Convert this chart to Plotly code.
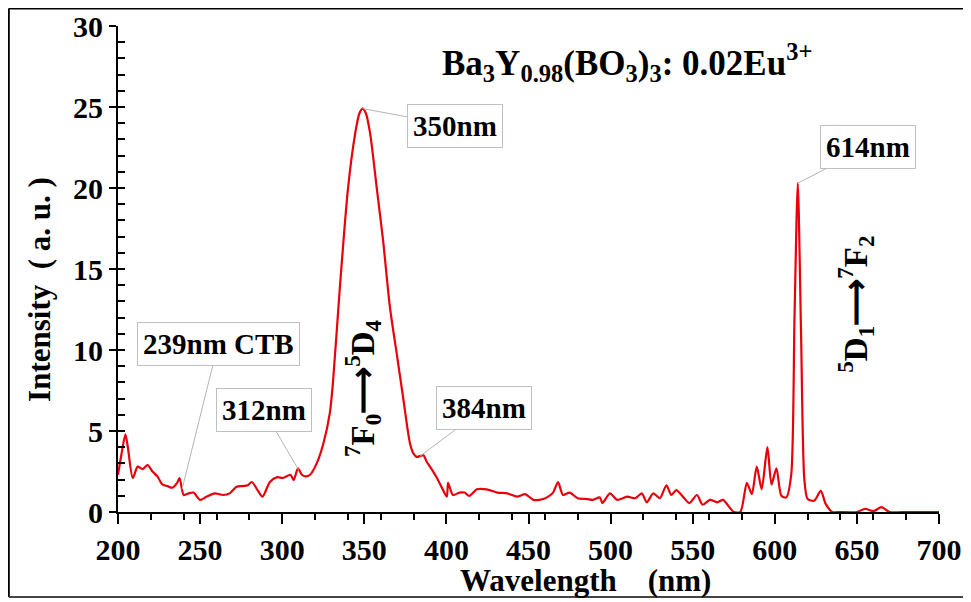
import plotly.graph_objects as go

wavelength = [200, 202, 204.5, 206, 209, 212, 215, 218, 221, 224, 227, 230, 233, 236, 237.5, 240, 243, 246,
              250, 254, 259, 264, 268, 272, 276, 279, 281.5, 285, 288, 292.5, 297, 300.5, 305, 307, 309.6,
              312, 314, 317, 321, 325, 329, 331, 335, 340, 344.5, 347, 349, 351, 353.5, 357.7, 361.4, 365.6,
              370, 373.6, 377.8, 380, 382, 386, 388, 390, 394, 398, 400.3, 401, 404, 408, 411, 414, 418.5,
              424.5, 431, 437, 443, 448, 453, 459, 462, 465, 468, 471, 475, 480, 485.6, 489, 493.5, 495,
              499.6, 504, 510, 515, 519, 522, 526, 530, 534, 537, 540, 544, 548, 552.6, 556, 560.5, 565,
              568.5, 572.7, 575, 579, 583, 586, 589, 592, 595.5, 598, 601, 604, 607, 610, 612, 614, 616,
              618, 620, 624, 628, 631, 635, 640, 650, 655, 660, 665, 670, 680, 690, 700]
intensity = [2.3, 3.5, 4.8, 4.0, 2.1, 2.8, 2.65, 2.9, 2.5, 2.2, 1.7, 1.6, 1.5, 1.8, 2.1, 1.05, 1.15, 1.2,
             0.75, 0.95, 1.15, 1.05, 1.15, 1.55, 1.6, 1.65, 1.85, 1.35, 0.95, 1.85, 2.15, 2.1, 2.3, 1.97, 2.7,
             2.3, 2.2, 2.3, 3.0, 4.2, 6.1, 8.1, 13.7, 19.9, 23.4, 24.6, 24.9, 24.6, 23.4, 19.9, 16.8, 12.65,
             9.6, 7.1, 4.25, 3.6, 3.4, 3.5, 3.1, 2.8, 2.15, 1.35, 0.95, 1.8, 1.05, 1.2, 1.2, 1.0, 1.4,
             1.4, 1.2, 1.15, 0.95, 1.1, 0.75, 0.8, 0.95, 1.2, 1.85, 1.05, 1.2, 0.85, 0.8, 0.75, 0.9, 0.55,
             1.15, 0.75, 0.95, 0.85, 1.15, 0.6, 1.15, 0.85, 1.65, 1.05, 1.35, 0.95, 0.55, 1.05, 0.45, 0.75, 0.6,
             0.75, 0.25, 0.0, 0.0, 1.8, 1.1, 2.8, 1.4, 4.0, 1.7, 2.7, 1.0, 0.9, 2.3, 12.0, 20.3, 11.0,
             2.0, 0.8, 0.7, 1.3, 0.5, 0.0, 0.0, 0.0, 0.2, 0.05, 0.3, 0.0, 0.0, 0.0, 0.0]

x_ticks = [200, 250, 300, 350, 400, 450, 500, 550, 600, 650, 700]
y_ticks = [0, 5, 10, 15, 20, 25, 30]

# callout labels: (text, x, y, ax, ay)
callouts = [
    ("350nm", 349, 24.9, 92, 17),
    ("614nm", 614, 20.3, 70, -36),
    ("239nm CTB", 239, 1.4, 36, -145),
    ("312nm", 310, 2.6, -35, -60),
    ("384nm", 384, 3.45, 64, -48),
]

FONT = "Liberation Serif"

fig = go.Figure()
fig.add_trace(go.Scatter(x=wavelength, y=intensity, mode="lines",
                         line=dict(color="#e8000b", width=2.2, shape="spline", smoothing=0.7),
                         showlegend=False))
# dummy trace for the overlay axis (inside minor ticks)
fig.add_trace(go.Scatter(x=[200], y=[0], yaxis="y2", mode="markers",
                         marker=dict(opacity=0), showlegend=False, hoverinfo="skip"))

fig.update_layout(
    width=963, height=594,
    margin=dict(l=110, r=32, t=18, b=90, autoexpand=False),
    paper_bgcolor="white", plot_bgcolor="white",
    font=dict(family=FONT, color="black"),
    xaxis=dict(range=[200, 700], tickvals=x_ticks, ticks="outside", ticklen=10, tickwidth=2,
               tickcolor="black", showline=True, linecolor="black", linewidth=2, showgrid=False,
               zeroline=False, automargin=False, tickfont=dict(family=FONT, size=30, weight="bold"),
               minor=dict(dtick=20, tick0=200, ticks="outside", ticklen=6, tickwidth=2, tickcolor="black")),
    yaxis=dict(range=[0, 30], tickvals=y_ticks, ticks="outside", ticklen=7, tickwidth=2,
               tickcolor="black", showline=True, linecolor="black", linewidth=2, showgrid=False,
               zeroline=False, automargin=False, tickfont=dict(family=FONT, size=30, weight="bold")),
    yaxis2=dict(range=[0, 30], overlaying="y", side="left", tickmode="linear", tick0=0, dtick=1,
                ticks="inside", ticklen=7, tickwidth=2, tickcolor="black", showticklabels=False,
                showgrid=False, zeroline=False, showline=False, automargin=False),
)

# axis titles
fig.add_annotation(xref="paper", yref="paper", x=0.569, y=-0.14, xanchor="center", yanchor="middle",
                   showarrow=False, text="<b>Wavelength    (nm)</b>",
                   font=dict(family=FONT, size=31, color="black"))
fig.add_annotation(xref="paper", yref="paper", x=-0.095, y=0.457, xanchor="center", yanchor="middle",
                   showarrow=False, textangle=-90, text="<b>Intensity  ( a. u. )</b>",
                   font=dict(family=FONT, size=31, color="black"))

for text, x, y, ax, ay in callouts:
    fig.add_annotation(x=x, y=y, ax=ax, ay=ay, text=f"<b>{text}</b>", showarrow=True,
                       arrowhead=0, arrowwidth=1, arrowcolor="#b5b5b5",
                       bordercolor="#c0c0c0", borderwidth=1, borderpad=5, bgcolor="white",
                       font=dict(family=FONT, size=29, color="black"))

fig.add_annotation(xref="paper", yref="paper", x=0.62, y=0.925, xanchor="center", yanchor="middle",
                   showarrow=False,
                   text="<b>Ba<sub>3</sub>Y<sub>0.98</sub>(BO<sub>3</sub>)<sub>3</sub>: 0.02Eu<sup>3+</sup></b>",
                   font=dict(family=FONT, size=35, color="black"))
fig.add_annotation(x=348.6, y=7.65, showarrow=False, textangle=-90,
                   text="<b><sup>7</sup>F<sub>0</sub>⟶<sup>5</sup>D<sub>4</sub></b>",
                   font=dict(family=FONT, size=33, color="black"))
fig.add_annotation(x=649.5, y=12.8, showarrow=False, textangle=-90,
                   text="<b><sup>5</sup>D<sub>1</sub>⟶<sup>7</sup>F<sub>2</sub></b>",
                   font=dict(family=FONT, size=33, color="black"))

# outer frame (left, top, bottom)
fig.add_shape(type="line", xref="paper", yref="paper", x0=-0.133, x1=-0.133, y0=-0.175, y1=1.036,
              line=dict(color="black", width=2))
fig.add_shape(type="line", xref="paper", yref="paper", x0=-0.133, x1=1.04, y0=1.036, y1=1.036,
              line=dict(color="black", width=2))
fig.add_shape(type="line", xref="paper", yref="paper", x0=-0.133, x1=1.04, y0=-0.175, y1=-0.175,
              line=dict(color="#444444", width=2))

fig.write_html("out.html")
